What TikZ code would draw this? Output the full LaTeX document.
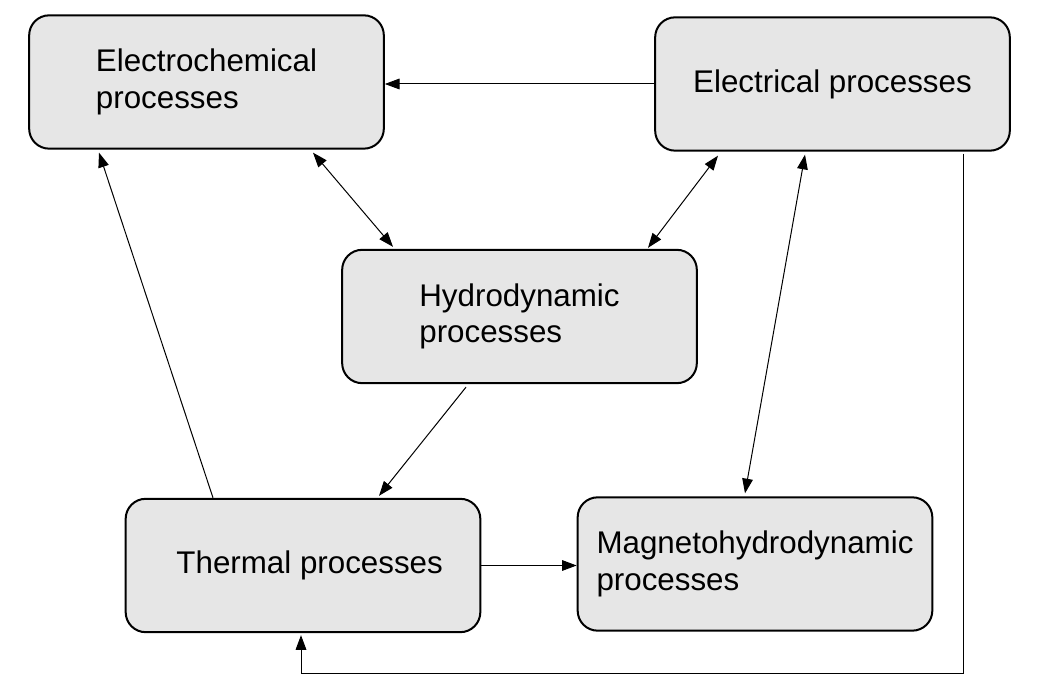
\documentclass[tikz,border=0pt]{standalone}
\usepackage{fontspec}
\setmainfont{Liberation Sans}
\definecolor{procGray}{RGB}{230,230,230}
\usetikzlibrary{arrows.meta,positioning,calc}

\begin{document}
\begin{tikzpicture}[x=0.75pt, y=-0.75pt,
  proc/.style={draw, line width=1.5pt, rounded corners=15pt, fill=procGray,
               minimum width=266pt, minimum height=100pt, align=left,
               font=\fontsize{23.5}{27.4}\selectfont},
  arr/.style={-{Triangle[length=11pt,width=8pt]}, line width=0.75pt},
  both/.style={{Triangle[length=11pt,width=8pt]}-{Triangle[length=11pt,width=8pt]}, line width=0.75pt}
]
  \useasboundingbox (0,0) rectangle (1051,691);

  \node[proc] (echem) at (206.5,82)  {Electrochemical\\processes};
  \node[proc] (elec)  at (832.5,84)  {Electrical processes};
  \node[proc] (hydro) at (519.5,316.5) {Hydrodynamic\\processes};
  \node[proc] (therm) at (303,565.5) {\hspace*{10pt}Thermal processes};
  \node[proc] (mhd)   at (755,564)   {Magnetohydrodynamic\\processes};

  \draw[arr]  (elec.west) -- (elec.west -| echem.east);
  \draw[both] ($(echem.south)+(106.5,3)$) -- ($(hydro.north)+(-126.5,-2)$);
  \draw[both] ($(elec.south)+(-114.5,4)$) -- ($(hydro.north)+(128.5,-1)$);
  \draw[both] ($(elec.south)+(-27.5,3)$) -- ($(mhd.north)+(-10,-3)$);
  \draw[arr]  ($(hydro.south)+(-53.5,3)$) -- ($(therm.north)+(76,-2)$);
  \draw[arr]  ($(therm.north)+(-90,0)$) -- ($(echem.south)+(-107.5,3)$);
  \draw[arr]  (therm.east) -- (therm.east -| mhd.west);
  \draw[arr]  ($(elec.south)+(130.5,2)$) |- ($(therm.south)+(-2,40)$) -- ($(therm.south)+(-2,2)$);
\end{tikzpicture}
\end{document}
